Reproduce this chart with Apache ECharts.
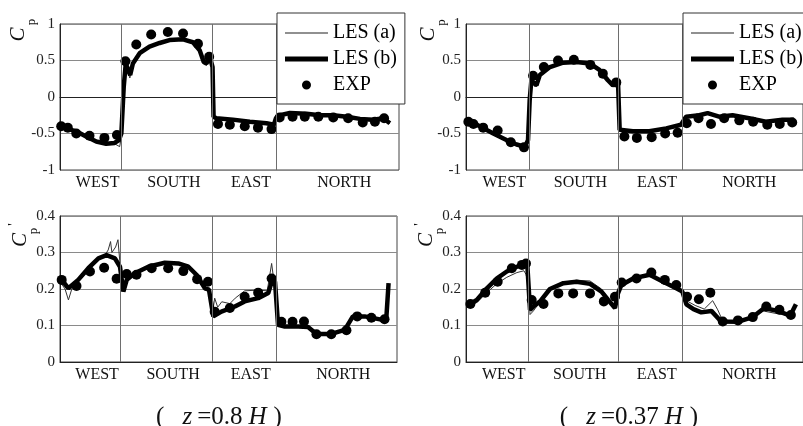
<!DOCTYPE html>
<html>
<head>
<meta charset="utf-8">
<script src="https://cdn.jsdelivr.net/npm/echarts@6/dist/echarts.min.js"></script>
<style>
html,body{margin:0;padding:0;background:#fff;}
#chart{width:803px;height:426px;}
</style>
</head>
<body>
<div id="chart"></div>
<script>
// ---------- data (position along the plotted perimeter, 0..100) ----------
const faceNames = ['WEST', 'SOUTH', 'EAST', 'NORTH'];
const yTicksCp = [-1, -0.5, 0, 0.5, 1];
const yTicksCpRms = [0, 0.1, 0.2, 0.3, 0.4];
const captions = ['z=0.8H', 'z=0.37H'];

// face boundaries per panel (TL, TR, BL, BR)
const edgesTL = [18.2, 45.0, 63.7];
const edgesTR = [18.7, 45.2, 64.1];
const edgesBL = [18.0, 45.1, 64.1];
const edgesBR = [18.4, 45.1, 64.1];

// Top-left: mean Cp, z=0.8H
const tlLesA = [[0,-0.40],[1.8,-0.42],[4.8,-0.48],[7.7,-0.55],[10.7,-0.62],[13.6,-0.65],[16.1,-0.64],[17.6,-0.68],[18.2,-0.52],[18.8,0.12],[19.4,0.44],[20.6,0.26],[21.5,0.44],[23.5,0.59],[26.4,0.69],[29.4,0.75],[32.3,0.78],[36.3,0.79],[39.2,0.76],[41.2,0.65],[42.4,0.50],[43.2,0.43],[44.2,0.53],[45.0,0.40],[45.3,-0.28],[46.1,-0.30],[51.0,-0.32],[56.0,-0.35],[60.9,-0.37],[63.1,-0.39],[63.7,-0.28],[64.9,-0.24],[67.8,-0.22],[72.7,-0.24],[76.7,-0.25],[80.6,-0.26],[84.6,-0.28],[88.5,-0.31],[92.4,-0.32],[95.4,-0.28],[97.3,-0.37]];
const tlLesB = [[0,-0.38],[1.8,-0.43],[4.8,-0.47],[7.7,-0.54],[10.7,-0.61],[13.6,-0.64],[16.1,-0.63],[17.4,-0.59],[18.1,-0.50],[18.8,0.14],[19.4,0.46],[20.7,0.30],[21.5,0.46],[23.5,0.60],[26.4,0.69],[29.4,0.74],[32.3,0.78],[36.3,0.79],[39.2,0.75],[41.2,0.64],[42.4,0.48],[43.2,0.46],[44.2,0.55],[45.0,0.41],[45.3,-0.27],[46.1,-0.29],[51.0,-0.31],[56.0,-0.34],[60.9,-0.36],[63.1,-0.38],[63.7,-0.29],[64.9,-0.25],[67.8,-0.22],[72.7,-0.23],[76.7,-0.25],[80.6,-0.25],[84.6,-0.27],[88.5,-0.30],[92.4,-0.31],[95.4,-0.29],[97.3,-0.36]];
const tlExp = [[0.35,-0.40],[2.3,-0.42],[4.8,-0.50],[8.7,-0.53],[13.1,-0.56],[16.8,-0.52],[19.3,0.49],[22.5,0.72],[26.9,0.855],[31.8,0.89],[36.3,0.87],[40.7,0.73],[44.0,0.55],[46.6,-0.37],[50.1,-0.38],[54.5,-0.40],[58.4,-0.42],[62.4,-0.44],[64.8,-0.28],[68.6,-0.27],[72.2,-0.27],[76.2,-0.27],[80.6,-0.28],[85.0,-0.29],[89.3,-0.35],[92.9,-0.34],[95.6,-0.29]];

// Top-right: mean Cp, z=0.37H
const trLesA = [[0.1,-0.32],[4.1,-0.41],[8.1,-0.51],[12.0,-0.60],[15.0,-0.66],[17.5,-0.70],[18.4,-0.60],[18.9,-0.06],[19.4,0.21],[20.9,0.14],[21.9,0.29],[24.9,0.40],[28.8,0.46],[32.8,0.48],[36.7,0.45],[39.6,0.36],[42.1,0.21],[43.6,0.14],[45.1,0.19],[45.6,-0.46],[49.5,-0.48],[54.4,-0.48],[59.4,-0.44],[63.8,-0.40],[65.3,-0.28],[69.2,-0.26],[71.7,-0.23],[75.1,-0.27],[79.1,-0.26],[84.0,-0.30],[89.0,-0.35],[93.9,-0.32],[97.3,-0.32]];
const trLesB = [[0.1,-0.31],[4.1,-0.40],[8.1,-0.50],[12.0,-0.59],[15.0,-0.65],[17.5,-0.68],[18.4,-0.59],[18.9,-0.04],[19.4,0.23],[20.9,0.16],[21.9,0.30],[24.9,0.41],[28.8,0.47],[32.8,0.48],[36.7,0.46],[39.6,0.37],[42.1,0.23],[43.6,0.16],[45.1,0.21],[45.6,-0.45],[49.5,-0.47],[54.4,-0.47],[59.4,-0.43],[63.8,-0.38],[65.3,-0.27],[69.2,-0.25],[71.7,-0.22],[75.1,-0.27],[79.1,-0.25],[84.0,-0.29],[89.0,-0.34],[93.9,-0.31],[97.3,-0.31]];
const trExp = [[0.7,-0.34],[2.2,-0.37],[5.1,-0.42],[9.4,-0.46],[13.3,-0.62],[17.2,-0.69],[19.9,0.29],[23.1,0.41],[27.3,0.50],[32.0,0.51],[36.9,0.44],[40.6,0.32],[44.6,0.20],[47.0,-0.54],[50.7,-0.56],[55.1,-0.55],[59.1,-0.50],[62.8,-0.49],[65.5,-0.36],[69.0,-0.29],[72.7,-0.37],[76.6,-0.29],[81.1,-0.32],[85.2,-0.34],[89.4,-0.38],[93.1,-0.37],[96.8,-0.35]];

// Bottom-left: rms Cp', z=0.8H
const blLesA = [[0,0.22],[1.5,0.20],[2.5,0.17],[3.5,0.20],[5.4,0.22],[8.4,0.25],[11.4,0.28],[13.5,0.295],[14.3,0.307],[15.0,0.33],[15.4,0.30],[16.5,0.315],[17.2,0.335],[17.8,0.27],[18.8,0.20],[19.8,0.22],[22.2,0.24],[26.2,0.26],[31.1,0.27],[35.1,0.268],[38.1,0.26],[40.5,0.235],[43.0,0.20],[44.2,0.195],[45.2,0.13],[45.9,0.175],[46.8,0.15],[48.0,0.165],[50.4,0.16],[52.0,0.175],[54.8,0.195],[58.8,0.197],[61.5,0.195],[62.8,0.27],[63.5,0.22],[64.7,0.103],[66.7,0.10],[70.7,0.098],[73.6,0.097],[76.1,0.08],[80.5,0.08],[84.5,0.09],[86.9,0.125],[90.4,0.123],[95.3,0.118],[96.8,0.12],[97.5,0.215]];
const blLesB = [[0,0.23],[2.5,0.202],[5.4,0.225],[8.4,0.257],[11.4,0.284],[13.8,0.293],[16.3,0.284],[17.8,0.261],[18.8,0.193],[19.8,0.225],[22.2,0.243],[26.2,0.261],[31.1,0.272],[35.1,0.27],[38.1,0.261],[40.5,0.239],[43.0,0.202],[44.2,0.198],[45.5,0.125],[47.9,0.138],[51.9,0.152],[54.8,0.166],[58.8,0.175],[61.8,0.189],[63.0,0.225],[63.8,0.22],[64.7,0.102],[66.7,0.097],[70.7,0.097],[73.6,0.096],[76.1,0.077],[80.5,0.077],[84.5,0.088],[86.9,0.125],[90.4,0.125],[95.3,0.116],[96.8,0.116],[97.5,0.216]];
const blExp = [[0.5,0.225],[4.9,0.208],[8.9,0.248],[13.1,0.258],[16.8,0.228],[19.8,0.241],[22.7,0.239],[27.2,0.257],[32.1,0.257],[36.6,0.249],[40.7,0.227],[43.9,0.22],[45.9,0.138],[50.4,0.148],[54.8,0.179],[58.8,0.19],[62.8,0.229],[65.7,0.11],[69.0,0.11],[72.4,0.111],[76.1,0.076],[80.5,0.076],[85.0,0.087],[88.2,0.125],[92.4,0.121],[96.3,0.117]];

// Bottom-right: rms Cp', z=0.37H
const brLesA = [[0.3,0.15],[3.2,0.163],[6.2,0.19],[9.2,0.215],[12.1,0.232],[15.1,0.245],[17.2,0.25],[17.8,0.24],[18.6,0.21],[19.0,0.13],[20.0,0.14],[22.0,0.165],[24.9,0.2],[28.9,0.218],[32.8,0.224],[36.8,0.222],[40.2,0.2],[42.2,0.175],[44.2,0.145],[45.1,0.19],[46.1,0.213],[49.6,0.226],[54.5,0.236],[58.5,0.218],[62.4,0.2],[64.2,0.19],[65.4,0.168],[68.0,0.155],[70.7,0.145],[73.2,0.168],[74.7,0.143],[76.2,0.112],[80.2,0.108],[84.1,0.116],[88.1,0.14],[92.0,0.133],[95.9,0.128],[97.4,0.15]];
const brLesB = [[0.3,0.154],[3.2,0.17],[6.2,0.202],[9.2,0.229],[12.1,0.248],[15.1,0.261],[17.5,0.27],[18.2,0.265],[19.0,0.143],[20.0,0.152],[22.0,0.166],[24.9,0.2],[28.9,0.216],[32.8,0.22],[36.8,0.214],[40.2,0.193],[42.2,0.17],[44.2,0.148],[45.1,0.188],[46.1,0.211],[49.6,0.229],[54.5,0.239],[58.5,0.22],[62.4,0.202],[64.2,0.193],[65.4,0.158],[67.5,0.145],[69.8,0.136],[72.8,0.14],[75.7,0.111],[80.6,0.11],[85.1,0.123],[88.5,0.148],[92.4,0.14],[96.2,0.127],[97.9,0.158]];
const brExp = [[1.3,0.159],[5.7,0.19],[9.4,0.22],[13.6,0.257],[16.6,0.266],[17.8,0.27],[19.5,0.17],[23.0,0.159],[27.4,0.188],[31.8,0.188],[36.8,0.188],[40.9,0.166],[44.2,0.179],[46.2,0.218],[50.6,0.229],[55.0,0.245],[59.0,0.225],[62.4,0.211],[65.6,0.179],[69.1,0.172],[72.5,0.19],[76.2,0.111],[80.7,0.114],[85.1,0.123],[89.1,0.152],[93.0,0.143],[96.4,0.129]];

// ---------- chart ----------
const FONT = "'Liberation Serif','Times New Roman',serif";
const panels = [
  { grid: {left: 60, top: 24, width: 339, height: 146}, edges: edgesTL, ticks: yTicksCp,    a: tlLesA, b: tlLesB, e: tlExp },
  { grid: {left: 466, top: 24, width: 338, height: 146}, edges: edgesTR, ticks: yTicksCp,    a: trLesA, b: trLesB, e: trExp },
  { grid: {left: 60, top: 216, width: 337, height: 146}, edges: edgesBL, ticks: yTicksCpRms, a: blLesA, b: blLesB, e: blExp },
  { grid: {left: 466, top: 216, width: 338, height: 146}, edges: edgesBR, ticks: yTicksCpRms, a: brLesA, b: brLesB, e: brExp }
];

function labelPositions(edges) {
  const all = [0].concat(edges, [100]);
  const out = [];
  for (let i = 0; i < 4; i++) out.push((all[i] + all[i + 1]) / 2 + 2);
  return out;
}
function nearest(arr, v) {
  let bi = 0, bd = Infinity;
  arr.forEach((a, i) => { const d = Math.abs(a - v); if (d < bd) { bd = d; bi = i; } });
  return bi;
}

const grids = [], xAxes = [], yAxes = [], series = [];
panels.forEach((p, i) => {
  grids.push(Object.assign({show: true, borderColor: '#444', borderWidth: 1, backgroundColor: 'transparent'}, p.grid));
  const pos = labelPositions(p.edges);
  xAxes.push({
    gridIndex: i, type: 'value', min: 0, max: 100,
    axisLine: {show: true, lineStyle: {color: '#222', width: 1}},
    axisTick: {show: false}, splitLine: {show: false},
    axisLabel: {customValues: pos, formatter: v => faceNames[nearest(pos, v)],
      fontFamily: FONT, fontSize: 16, color: '#111', margin: 5}
  });
  const t = p.ticks;
  yAxes.push({
    gridIndex: i, type: 'value', min: t[0], max: t[t.length - 1], interval: t[1] - t[0],
    axisLine: {show: true, lineStyle: {color: '#222', width: 1}},
    axisTick: {show: false},
    splitLine: {show: true, lineStyle: {color: '#8a8a8a', width: 1}},
    axisLabel: {fontFamily: FONT, fontSize: 15, color: '#222', margin: 5,
      formatter: v => String(Math.round(v * 100) / 100)}
  });
  series.push({
    name: 'edges' + i, type: 'line', xAxisIndex: i, yAxisIndex: i, data: [], z: 1,
    markLine: {silent: true, symbol: ['none', 'none'], label: {show: false},
      lineStyle: {color: '#6e6e6e', type: 'solid', width: 1},
      data: p.edges.map(e => ({xAxis: e}))}
  });
  series.push({
    name: 'LES (a)', type: 'line', xAxisIndex: i, yAxisIndex: i, data: p.a, z: 2,
    symbol: 'none', showSymbol: false, lineStyle: {width: 1, color: '#333'}, itemStyle: {color: '#333', opacity: 1}
  });
  series.push({
    name: 'LES (b)', type: 'line', xAxisIndex: i, yAxisIndex: i, data: p.b, z: 3,
    symbol: 'none', showSymbol: false, lineStyle: {width: 4.5, color: '#000'}, itemStyle: {color: '#000', opacity: 1}
  });
  series.push({
    name: 'EXP', type: 'scatter', xAxisIndex: i, yAxisIndex: i, data: p.e, z: 4,
    symbol: 'circle', symbolSize: 10, itemStyle: {color: '#000', opacity: 1}
  });
});

// legend icons: invisible corner points fix the icon box, visible part is the mark
const thinIcon = 'path://M0,0L0.01,0M43,14L43.01,14M0,6.5L43,6.5L43,7.5L0,7.5Z';
const thickIcon = 'path://M0,0L0.01,0M43,14L43.01,14M0,4.5L43,4.5L43,9.5L0,9.5Z';
const dotIcon = 'path://M0,0L0.01,0M14,14L14.01,14M2.5,7A4.5,4.5,0,1,1,11.5,7A4.5,4.5,0,1,1,2.5,7Z';
function legendAt(left) {
  return {
    left: left, top: 13, orient: 'vertical', selectedMode: false,
    backgroundColor: '#fff', borderColor: '#333', borderWidth: 1,
    padding: [9, 8, 8, 8], itemWidth: 43, itemHeight: 14, itemGap: 4,
    textStyle: {fontFamily: FONT, fontSize: 20, color: '#000', lineHeight: 22},
    itemStyle: {opacity: 1, borderWidth: 0},
    data: [
      {name: 'LES (a)', icon: thinIcon, itemStyle: {color: '#222', opacity: 1}},
      {name: 'LES (b)', icon: thickIcon, itemStyle: {color: '#000', opacity: 1}},
      {name: 'EXP', icon: dotIcon, itemStyle: {color: '#000', opacity: 1}}
    ],
    z: 20
  };
}

function rotText(x, y, text, size, italic) {
  return {type: 'text', x: x, y: y, rotation: Math.PI / 2, z: 30,
    style: {text: text, fontFamily: FONT, fontSize: size, fontStyle: italic ? 'italic' : 'normal',
      fill: '#111', align: 'center', verticalAlign: 'middle'}};
}
function caption(cx, cy, txt) {
  const m = txt.match(/^z=(.*)H$/);
  return {type: 'text', x: cx, y: cy, z: 30,
    style: {text: '{a|(}{i|z}{b|=' + m[1] + '}{i|H}{c|)}', align: 'center', verticalAlign: 'middle',
      fill: '#111',
      rich: {
        a: {fontFamily: FONT, fontSize: 25, padding: [0, 18, 0, 0], fill: '#111'},
        i: {fontFamily: FONT, fontSize: 25, fontStyle: 'italic', padding: [0, 5, 0, 0], fill: '#111'},
        b: {fontFamily: FONT, fontSize: 25, padding: [0, 6, 0, 0], fill: '#111'},
        c: {fontFamily: FONT, fontSize: 25, padding: [0, 0, 0, 2], fill: '#111'}
      }}};
}

const graphics = [
  rotText(18.5, 34.5, 'C', 21, true), rotText(31.5, 22, 'p', 13, false),
  rotText(428.5, 34.5, 'C', 21, true), rotText(442, 22.5, 'p', 13, false),
  rotText(20, 240, 'C', 21, true), rotText(14, 224.5, '\'', 14, false), rotText(33.5, 231, 'p', 13, false),
  rotText(426, 240, 'C', 21, true), rotText(420, 224.5, '\'', 14, false), rotText(439.5, 231, 'p', 13, false),
  caption(219, 417, captions[0]),
  caption(629, 417, captions[1])
];

const chart = echarts.init(document.getElementById('chart'), null, {renderer: 'canvas'});
chart.setOption({
  animation: false,
  backgroundColor: '#fff',
  grid: grids, xAxis: xAxes, yAxis: yAxes, series: series,
  legend: [legendAt(277), legendAt(683)],
  graphic: graphics
});
</script>
</body>
</html>
